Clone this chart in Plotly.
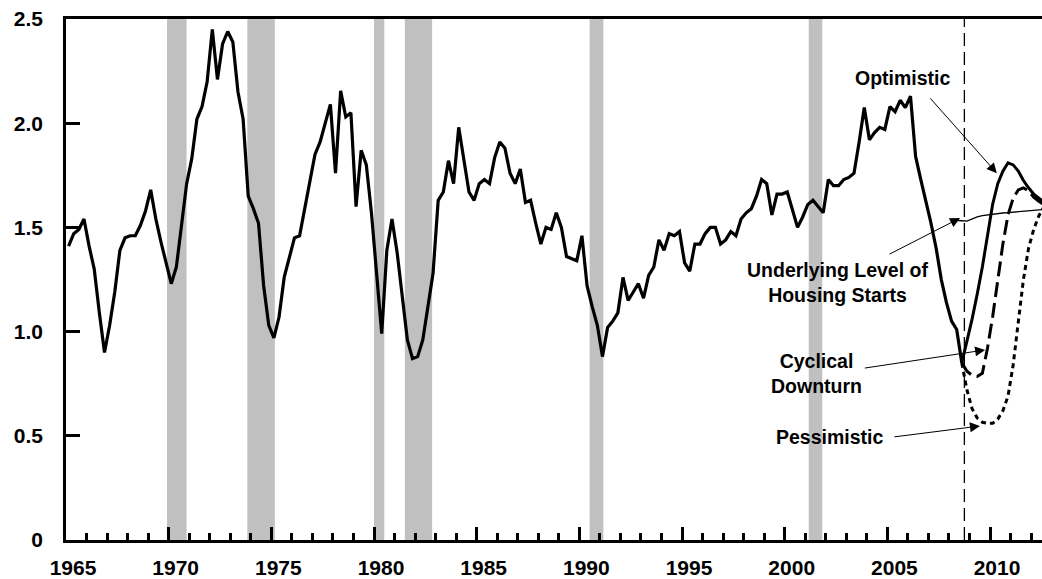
import plotly.graph_objects as go

# ---------------- data ----------------
start_year = 1965
hist_values = [
    1.41, 1.47, 1.49, 1.54, 1.41, 1.30, 1.09, 0.90, 1.03, 1.19,
    1.39, 1.45, 1.46, 1.46, 1.51, 1.58, 1.68, 1.54, 1.43, 1.33,
    1.23, 1.31, 1.51, 1.71, 1.83, 2.02, 2.08, 2.20, 2.45, 2.21,
    2.38, 2.44, 2.39, 2.15, 2.02, 1.65, 1.59, 1.52, 1.22, 1.03,
    0.97, 1.07, 1.26, 1.35, 1.45, 1.46, 1.59, 1.70, 1.85, 1.91,
    2.00, 2.09, 1.76, 2.155, 2.03, 2.05, 1.60, 1.87, 1.80, 1.57,
    1.28, 0.99, 1.39, 1.54, 1.38, 1.17, 0.96, 0.87, 0.88, 0.96,
    1.12, 1.28, 1.63, 1.67, 1.82, 1.71, 1.98, 1.83, 1.67, 1.63,
    1.71, 1.73, 1.71, 1.835, 1.91, 1.88, 1.76, 1.71, 1.78, 1.62,
    1.63, 1.52, 1.42, 1.50, 1.49, 1.57, 1.50, 1.36, 1.35, 1.34,
    1.46, 1.22, 1.12, 1.03, 0.88, 1.02, 1.05, 1.09, 1.26, 1.15,
    1.19, 1.23, 1.16, 1.27, 1.31, 1.44, 1.39, 1.47, 1.46, 1.48,
    1.33, 1.29, 1.42, 1.42, 1.47, 1.50, 1.50, 1.42, 1.44, 1.48,
    1.46, 1.54, 1.57, 1.59, 1.65, 1.73, 1.71, 1.56, 1.66, 1.66,
    1.67, 1.58, 1.50, 1.55, 1.61, 1.63, 1.60, 1.57, 1.73, 1.70,
    1.70, 1.73, 1.74, 1.76, 1.91, 2.075, 1.92, 1.955, 1.98, 1.97,
    2.08, 2.055, 2.11, 2.075, 2.13, 1.84, 1.73, 1.63, 1.52, 1.40,
    1.25, 1.14, 1.05, 1.01, 0.85,
]
hist_years = [start_year + 0.125 + 0.25 * i for i in range(len(hist_values))]

proj_start = 2008.625
optimistic = [0.85, 0.95, 1.06, 1.18, 1.31, 1.46, 1.61, 1.71, 1.77, 1.81,
              1.80, 1.77, 1.725, 1.69, 1.66, 1.64, 1.62]
cyclical = [0.85, 0.81, 0.79, 0.785, 0.80, 0.92, 1.07, 1.24, 1.42, 1.56,
            1.64, 1.68, 1.69, 1.675, 1.645, 1.625, 1.61]
pessimistic = [0.85, 0.72, 0.63, 0.585, 0.565, 0.56, 0.56, 0.58, 0.62, 0.69,
               0.84, 1.04, 1.25, 1.40, 1.49, 1.555, 1.60]
proj_years = [proj_start + 0.25 * i for i in range(len(optimistic))]

underlying_start = 2008.125
underlying = [1.535, 1.535, 1.532, 1.53, 1.54, 1.55, 1.556, 1.56, 1.563, 1.566,
              1.569, 1.571, 1.573, 1.576, 1.578, 1.58, 1.582, 1.584, 1.586]
underlying_years = [underlying_start + 0.25 * i for i in range(len(underlying))]

recession_starts = [1969.92, 1973.83, 1980.0, 1981.5, 1990.5, 2001.17]
recession_ends = [1970.87, 1975.17, 1980.5, 1982.83, 1991.17, 2001.83]

forecast_line_year = 2008.75

y_tickvals = [0, 0.5, 1.0, 1.5, 2.0, 2.5]
y_ticktext = ["0", "0.5", "1.0", "1.5", "2.0", "2.5"]

# annotation labels: (text, x, y)
labels = [
    ("Optimistic", 2005.78, 2.215),
    ("Underlying Level of<br>Housing Starts", 2002.55, 1.236),
    ("Cyclical<br>Downturn", 2001.55, 0.80),
    ("Pessimistic", 2002.16, 0.494),
]
# arrows: (tail_x, tail_y, head_x, head_y)
arrows = [
    (2007.03, 2.126, 2010.33, 1.76),
    (2005.03, 1.368, 2008.54, 1.545),
    (2003.83, 0.824, 2009.76, 0.912),
    (2005.27, 0.494, 2009.51, 0.547),
]

FONT = "Liberation Sans"

fig = go.Figure()

fig.add_trace(go.Scatter(x=hist_years, y=hist_values, mode="lines",
                         line=dict(color="black", width=3.2), showlegend=False))
fig.add_trace(go.Scatter(x=proj_years, y=optimistic, mode="lines",
                         line=dict(color="black", width=3), showlegend=False))
fig.add_trace(go.Scatter(x=proj_years, y=cyclical, mode="lines",
                         line=dict(color="black", width=3, dash="15px,6px"),
                         showlegend=False))
fig.add_trace(go.Scatter(x=proj_years, y=pessimistic, mode="lines",
                         line=dict(color="black", width=3, dash="5px,4px"),
                         showlegend=False))
fig.add_trace(go.Scatter(x=underlying_years, y=underlying, mode="lines",
                         line=dict(color="black", width=1.3), showlegend=False))

shapes = []
for s, e in zip(recession_starts, recession_ends):
    shapes.append(dict(type="rect", xref="x", yref="y", x0=s, x1=e, y0=0, y1=2.5,
                       fillcolor="#c0c0c0", line=dict(width=0), layer="below"))
shapes.append(dict(type="line", xref="x", yref="y", x0=forecast_line_year,
                   x1=forecast_line_year, y0=0, y1=2.5,
                   line=dict(color="black", width=1.3, dash="13px,6px")))

annotations = []
for text, x, y in labels:
    annotations.append(dict(text=text, x=x, y=y, xref="x", yref="y",
                            showarrow=False, xanchor="center", yanchor="middle",
                            align="center",
                            font=dict(family=FONT, size=19.5, color="black",
                                      weight="bold")))
for tx, ty, hx, hy in arrows:
    annotations.append(dict(text="", x=hx, y=hy, ax=tx, ay=ty, xref="x", yref="y",
                            axref="x", ayref="y", showarrow=True, arrowhead=2,
                            arrowsize=2, arrowwidth=1, arrowcolor="black",
                            standoff=0, startstandoff=0))

fig.update_layout(
    width=1042, height=579,
    margin=dict(l=66, r=0, t=19, b=39, autoexpand=False),
    paper_bgcolor="white", plot_bgcolor="white",
    shapes=shapes, annotations=annotations,
    showlegend=False,
    xaxis=dict(range=[1965, 2012.53], tickmode="linear", tick0=1965, dtick=5,
               ticks="inside", ticklen=13, tickwidth=2.5, tickcolor="black",
               showline=True, linecolor="black", linewidth=2.7, mirror=True,
               showgrid=False, zeroline=False, ticklabelshift=7,
               ticklabelstandoff=7, automargin=False,
               tickfont=dict(family=FONT, size=21, color="black", weight="bold")),
    yaxis=dict(range=[0, 2.5], tickmode="array", tickvals=y_tickvals,
               ticktext=y_ticktext, ticks="inside", ticklen=14, tickwidth=2.5,
               tickcolor="black", showline=True, linecolor="black", linewidth=2.7,
               showgrid=False, zeroline=False, ticklabelstandoff=16,
               automargin=False,
               tickfont=dict(family=FONT, size=21, color="black", weight="bold")),
)
fig.update_xaxes(minor=dict(ticks="inside", ticklen=7, tickwidth=2.5,
                            tickcolor="black", dtick=1, tick0=1965, showgrid=False))

fig.write_html("out.html",
               config={"displayModeBar": False},
               post_script="document.body.style.margin='0';"
                           "document.body.style.overflow='hidden';")
